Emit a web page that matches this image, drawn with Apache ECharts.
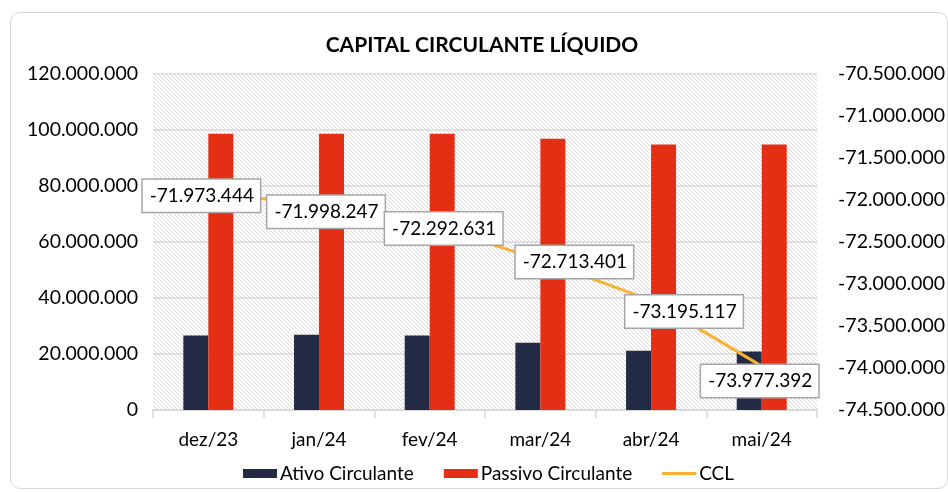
<!DOCTYPE html>
<html>
<head>
<meta charset="utf-8">
<script src="https://cdn.jsdelivr.net/npm/echarts@6/dist/echarts.min.js"></script>
<style>
  html, body { margin: 0; padding: 0; background: #ffffff; }
  #frame { position: absolute; left: 10px; top: 12px; width: 938px; height: 477px;
           border: 1.5px solid #d9d9d9; border-radius: 10px; box-sizing: border-box; }
  #chart { position: absolute; left: 0; top: 0; width: 948px; height: 492px; }
</style>
</head>
<body>
<div id="frame"></div>
<div id="chart"></div>
<script>
// ---- data ----
const categories = ['dez/23', 'jan/24', 'fev/24', 'mar/24', 'abr/24', 'mai/24'];
const ativoCirculante = [26600000, 26900000, 26600000, 24000000, 21200000, 20900000];
const passivoCirculante = [98700000, 98700000, 98700000, 96900000, 94800000, 94800000];
const ccl = [-71973444, -71998247, -72292631, -72713401, -73195117, -73977392];
const seriesNames = ['Ativo Circulante', 'Passivo Circulante', 'CCL'];
const titleText = 'CAPITAL CIRCULANTE LÍQUIDO';

// label placement (style only)
const cclLabelOffsets = [[-7, -2], [7, 12], [14, 4], [34, 2], [33, 11], [-2, 15]];

function fmt(v) {
  const neg = v < 0;
  let s = Math.round(Math.abs(v)).toString();
  s = s.replace(/\B(?=(\d{3})+(?!\d))/g, '.');
  return (neg ? '-' : '') + s;
}

// hatch pattern for plot background
const pc = document.createElement('canvas');
pc.width = 4; pc.height = 4;
const pctx = pc.getContext('2d');
pctx.fillStyle = '#ffffff';
pctx.fillRect(0, 0, 4, 4);
pctx.fillStyle = '#d9d9d9';
for (let i = 0; i < 4; i++) pctx.fillRect(i, i, 1, 1);

const FONT = 'Lato';
const chart = echarts.init(document.getElementById('chart'), null, { renderer: 'canvas' });

chart.setOption({
  animation: false,
  title: {
    text: titleText,
    left: 477, top: 30, textAlign: 'center',
    textStyle: { fontFamily: FONT, fontWeight: 'bold', fontSize: 21, color: '#000' }
  },
  legend: {
    left: 238, top: 459,
    itemWidth: 34, itemHeight: 9, itemGap: 30,
    textStyle: { fontFamily: FONT, fontSize: 19, color: '#000', padding: [0, 0, 0, -2] },
    data: [
      { name: seriesNames[0], icon: 'rect' },
      { name: seriesNames[1], icon: 'rect' },
      { name: seriesNames[2], icon: 'path://M0,0H36V3H0Z', itemStyle: { color: '#F8B133' } }
    ]
  },
  grid: {
    left: 153, right: 127, top: 74, bottom: 82,
    show: true, borderWidth: 0,
    backgroundColor: { image: pc, repeat: 'repeat' }
  },
  xAxis: {
    type: 'category',
    data: categories,
    axisLine: { lineStyle: { color: '#d9d9d9', width: 1.5 } },
    axisTick: { show: true, length: 8, lineStyle: { color: '#d9d9d9', width: 1.5 } },
    axisLabel: { fontFamily: FONT, fontSize: 19, color: '#000', margin: 20 }
  },
  yAxis: [
    {
      type: 'value', min: 0, max: 120000000, interval: 20000000,
      axisLine: { show: false }, axisTick: { show: false },
      splitLine: { lineStyle: { color: '#d9d9d9', width: 1.5 } },
      axisLabel: { fontFamily: FONT, fontSize: 19.5, color: '#000', margin: 15, formatter: fmt }
    },
    {
      type: 'value', min: -74500000, max: -70500000, interval: 500000,
      position: 'right',
      axisLine: { show: false }, axisTick: { show: false },
      splitLine: { show: false },
      axisLabel: { fontFamily: FONT, fontSize: 19.5, color: '#000', margin: 21, formatter: fmt }
    }
  ],
  series: [
    {
      name: seriesNames[0], type: 'bar', data: ativoCirculante,
      barWidth: 25, barGap: '0%',
      itemStyle: { color: '#232A45' }
    },
    {
      name: seriesNames[1], type: 'bar', data: passivoCirculante,
      barWidth: 25, barGap: '0%',
      itemStyle: { color: '#E52F14' }
    },
    {
      name: seriesNames[2], type: 'line', yAxisIndex: 1,
      symbol: 'circle', symbolSize: 2, showSymbol: true,
      lineStyle: { color: '#F8B133', width: 3 },
      itemStyle: { color: '#F8B133' },
      z: 5,
      data: ccl.map((v, i) => ({
        value: v,
        label: { offset: cclLabelOffsets[i] }
      })),
      label: {
        show: true, position: 'inside',
        formatter: p => fmt(p.value),
        fontFamily: FONT, fontSize: 19, color: '#000',
        backgroundColor: '#ffffff',
        borderColor: '#a6a6a6', borderWidth: 1.5,
        padding: [7, 6, 6, 7]
      }
    }
  ]
});
</script>
</body>
</html>
